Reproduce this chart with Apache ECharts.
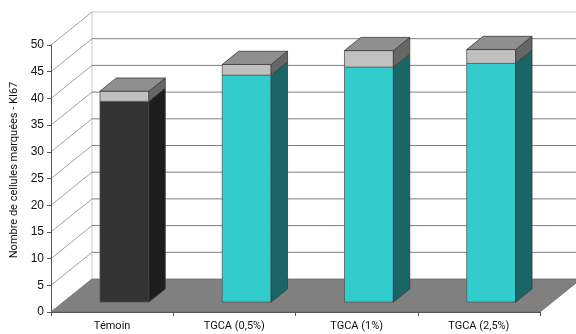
<!DOCTYPE html>
<html>
<head>
<meta charset="utf-8">
<script src="https://cdn.jsdelivr.net/npm/echarts@6/dist/echarts.min.js"></script>
<style>
  html, body { margin: 0; padding: 0; background: #fff; }
  #chart { width: 576px; height: 334px; }
</style>
</head>
<body>
<div id="chart"></div>
<script>
// Mean count of KI67-labelled cells per group, with the standard deviation stacked on top
const categories = ['Témoin', 'TGCA (0,5%)', 'TGCA (1%)', 'TGCA (2,5%)'];
const means = [37.6, 42.5, 44.0, 44.7];
const deviations = [1.9, 2.0, 3.1, 2.6];
const yTicks = [0, 5, 10, 15, 20, 25, 30, 35, 40, 45, 50];

// Oblique depth of the box (back wall offset from the front plane)
const DX = 41, DY = -33;
// Bars sit in the middle of the depth
const BAR_FRONT = 0.3, BAR_DEPTH = 0.4, BAR_WIDTH = 0.4;

const palette = [
  { front: '#333333', side: '#1d1d1d' },
  { front: '#33cccc', side: '#1a6666' },
  { front: '#33cccc', side: '#1a6666' },
  { front: '#33cccc', side: '#1a6666' }
];

const barData = categories.map((c, i) => [i, means[i], deviations[i]]);

function renderBox(params, api) {
  const cs = params.coordSys;
  const left = cs.x, right = cs.x + cs.width, bottom = cs.y + cs.height;
  const children = [];
  // floor
  children.push({
    type: 'polygon',
    shape: { points: [[left, bottom], [right, bottom], [right + DX, bottom + DY], [left + DX, bottom + DY]] },
    style: { fill: '#808080', stroke: '#6a6a6a', lineWidth: 0.8 }
  });
  const topY = api.coord([0, yTicks[yTicks.length - 1]])[1];
  // back wall left edge
  children.push({
    type: 'line',
    shape: { x1: left + DX, y1: bottom + DY, x2: left + DX, y2: topY + DY },
    style: { stroke: '#c8c8c8', lineWidth: 1 }
  });
  yTicks.forEach((v, k) => {
    const y = api.coord([0, v])[1];
    const isTop = k === yTicks.length - 1;
    // side-wall diagonal from the value axis
    children.push({
      type: 'line',
      shape: { x1: left, y1: y, x2: left + DX, y2: y + DY },
      style: { stroke: '#8a8a8a', lineWidth: 0.8 }
    });
    if (v > 0) {
      children.push({
        type: 'line',
        shape: { x1: left + DX, y1: y + DY, x2: right + DX, y2: y + DY },
        style: { stroke: isTop ? '#c8c8c8' : '#808080', lineWidth: 1 }
      });
    }
  });
  return { type: 'group', children: children };
}

function renderBar(params, api) {
  const i = api.value(0), v = api.value(1), e = api.value(2);
  const base = api.coord([i, 0]);
  const mid = api.coord([i, v]);
  const cap = api.coord([i, v + e]);
  const band = api.size([1, 0])[0];
  const w = band * BAR_WIDTH;
  const fx = DX * BAR_FRONT, fy = DY * BAR_FRONT;
  const bx = DX * BAR_DEPTH, by = DY * BAR_DEPTH;
  const x0 = base[0] - w / 2 + fx, x1 = x0 + w;
  const y0 = base[1] + fy, y1 = mid[1] + fy, y2 = cap[1] + fy;
  const col = palette[i];
  const edge = { stroke: '#3a3a3a', lineWidth: 0.8 };
  return {
    type: 'group',
    children: [
      { type: 'polygon', shape: { points: [[x0, y0], [x1, y0], [x1, y1], [x0, y1]] },
        style: Object.assign({ fill: col.front }, edge, { stroke: '#555' }) },
      { type: 'polygon', shape: { points: [[x1, y0], [x1 + bx, y0 + by], [x1 + bx, y1 + by], [x1, y1]] },
        style: Object.assign({ fill: col.side }, edge) },
      { type: 'polygon', shape: { points: [[x0, y1], [x1, y1], [x1, y2], [x0, y2]] },
        style: Object.assign({ fill: '#c0c0c0' }, edge, { stroke: '#555' }) },
      { type: 'polygon', shape: { points: [[x1, y1], [x1 + bx, y1 + by], [x1 + bx, y2 + by], [x1, y2]] },
        style: Object.assign({ fill: '#666666' }, edge) },
      { type: 'polygon', shape: { points: [[x0, y2], [x1, y2], [x1 + bx, y2 + by], [x0 + bx, y2 + by]] },
        style: Object.assign({ fill: '#8f8f8f' }, edge) }
    ]
  };
}

const chart = echarts.init(document.getElementById('chart'), null, { renderer: 'canvas' });
chart.setOption({
  animation: false,
  backgroundColor: '#ffffff',
  grid: { left: 51, right: 36, top: 45, bottom: 22, containLabel: false },
  xAxis: {
    type: 'category',
    data: categories,
    z: 10,
    axisLine: { show: true, lineStyle: { color: '#555', width: 1 } },
    axisTick: { show: true, length: 4, lineStyle: { color: '#555' } },
    axisLabel: { color: '#111', fontFamily: 'Roboto', fontSize: 11, margin: 9 }
  },
  yAxis: {
    type: 'value',
    min: 0, max: 50, interval: 5,
    z: 10,
    axisLine: { show: true, lineStyle: { color: '#555', width: 1 } },
    axisTick: { show: true, length: 4, lineStyle: { color: '#555' } },
    axisLabel: { color: '#111', fontFamily: 'Liberation Sans', fontSize: 12, margin: 7 },
    splitLine: { show: false }
  },
  graphic: [{
    type: 'text',
    x: 14, y: 170,
    rotation: Math.PI / 2,
    style: {
      text: 'Nombre de cellules marquées - KI67',
      fontFamily: 'Roboto', fontSize: 11, fill: '#111',
      align: 'center', verticalAlign: 'middle'
    }
  }],
  series: [
    { type: 'custom', z: 1, renderItem: renderBox, data: [[0, 0]], silent: true },
    { type: 'custom', z: 3, renderItem: renderBar, data: barData, encode: { x: 0, y: 1 } }
  ]
});
</script>
</body>
</html>
